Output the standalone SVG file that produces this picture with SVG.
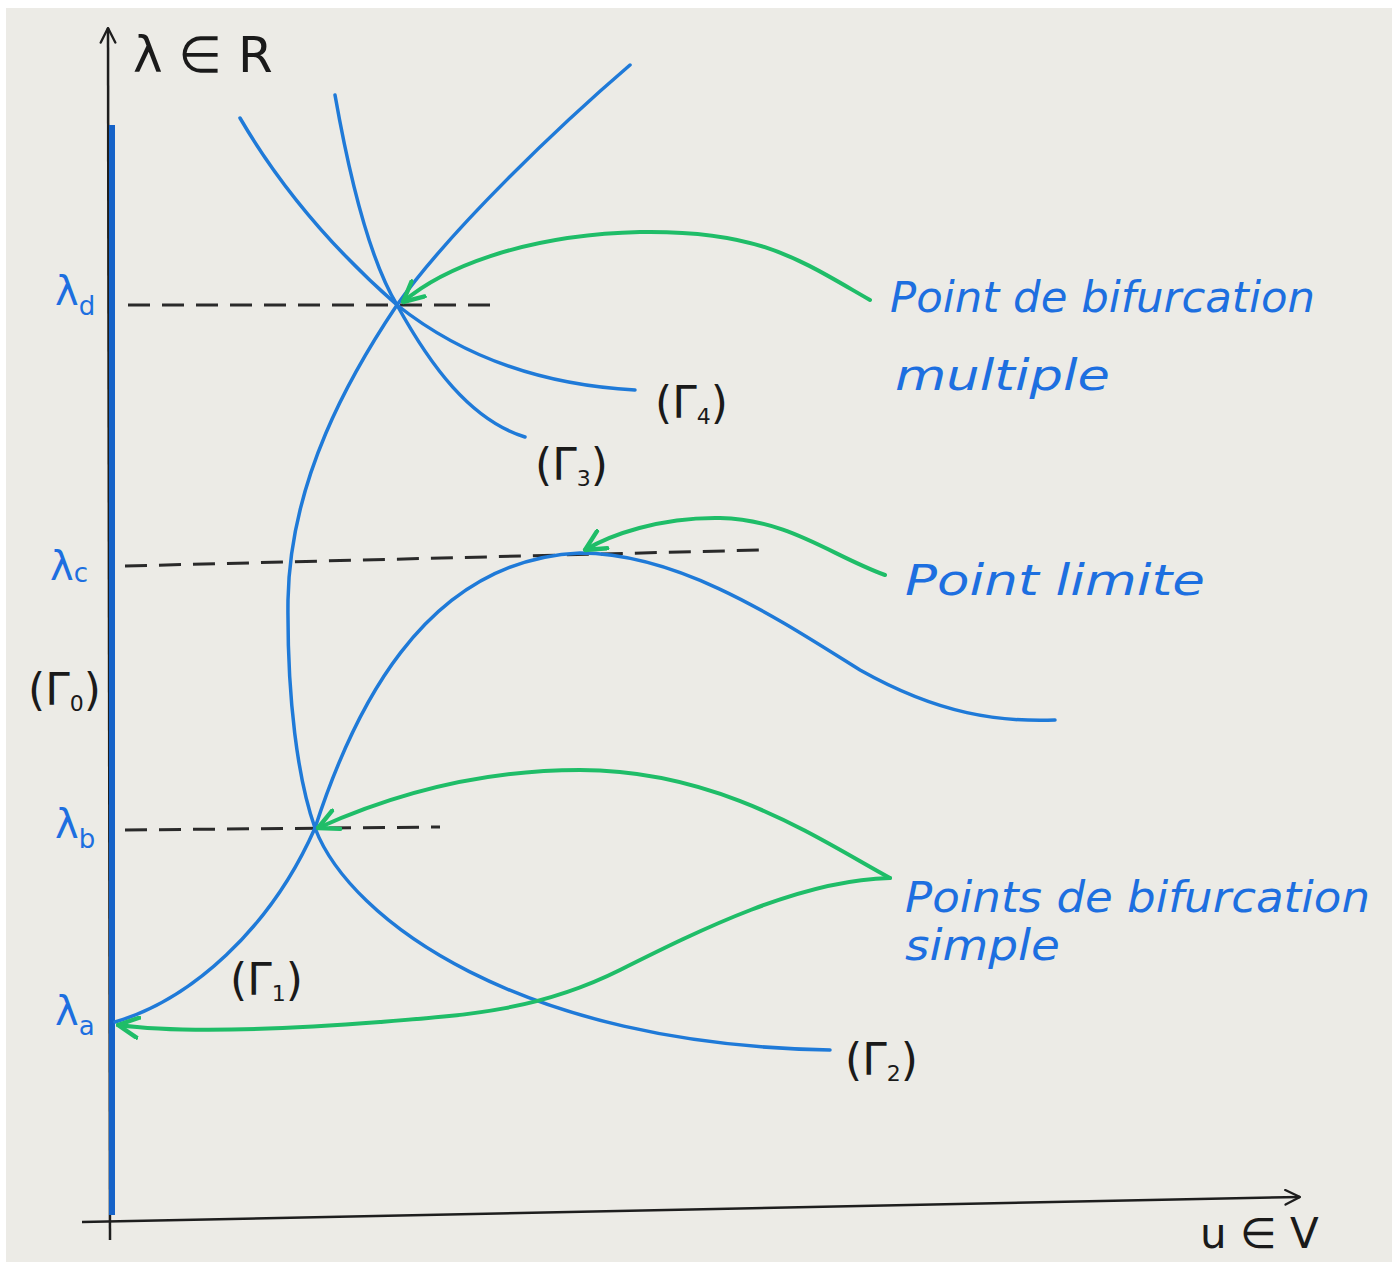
<svg xmlns="http://www.w3.org/2000/svg" width="1396" height="1267" viewBox="0 0 1396 1267">
<defs>
<style>
.curve{fill:none;stroke:#1f7ad8;stroke-width:3.5;stroke-linecap:round}
.green{fill:none;stroke:#1fbd68;stroke-width:4;stroke-linecap:round}
.dash{fill:none;stroke:#2a2a2a;stroke-width:3;stroke-dasharray:22 12}
.axis{fill:none;stroke:#1e1e1e;stroke-width:2.5}
.lbl{font-family:"DejaVu Sans",sans-serif;fill:#1a1a1a}
.blue{font-family:"DejaVu Sans",sans-serif;fill:#1d6fe0;font-style:italic}
.lam{font-family:"DejaVu Sans",sans-serif;fill:#1d6fe0}
</style>
<marker id="ga" viewBox="0 0 12 12" refX="11" refY="6" markerWidth="6" markerHeight="6" orient="auto" markerUnits="strokeWidth">
<path d="M1,1 L11,6 L1,11" fill="none" stroke="#1fbd68" stroke-width="2.2" stroke-linecap="round" stroke-linejoin="round"/>
</marker>
<marker id="ka" viewBox="0 0 12 12" refX="11" refY="6" markerWidth="7" markerHeight="7" orient="auto" markerUnits="strokeWidth">
<path d="M1,1 L11,6 L1,11" fill="none" stroke="#1e1e1e" stroke-width="1.6" stroke-linecap="round" stroke-linejoin="round"/>
</marker>
</defs>
<rect x="0" y="0" width="1396" height="1267" fill="#ffffff"/>
<rect x="6" y="8" width="1386" height="1254" fill="#ecebe6"/>

<g id="axes">
<path class="axis" d="M110,1240 L108,28" marker-end="url(#ka)"/>
<path class="axis" d="M82,1222 L1300,1197" marker-end="url(#ka)"/>
<path d="M112,125 L112,1215" fill="none" stroke="#1562c8" stroke-width="6"/>
<text class="lbl" x="133" y="72" font-size="50">λ ∈ R</text>
<text class="lbl" x="1200" y="1248" font-size="42">u ∈ V</text>
</g>

<g id="levels">
<path class="dash" d="M128,305 L495,305"/>
<path class="dash" d="M125,566 L760,550"/>
<path class="dash" d="M125,830 L440,827"/>
<text class="lam" x="55" y="305" font-size="40">λ<tspan font-size="26" dy="10">d</tspan></text>
<text class="lam" x="50" y="580" font-size="40">λ<tspan font-size="26" dy="2">c</tspan></text>
<text class="lam" x="55" y="838" font-size="40">λ<tspan font-size="26" dy="10">b</tspan></text>
<text class="lam" x="55" y="1025" font-size="40">λ<tspan font-size="26" dy="10">a</tspan></text>
</g>

<g id="branches">
<path id="gamma1" class="curve" d="M115,1022 C190,1000 270,930 315,828 C350,720 420,560 580,553 C680,553 780,620 860,670 C940,715 1000,722 1055,720"/>
<path id="gamma2" class="curve" d="M630,65 C560,125 450,230 397,305 C350,375 290,480 288,600 C287,700 298,780 315,828 C350,920 520,1045 830,1050"/>
<path id="gamma3" class="curve" d="M335,95 C350,180 370,260 397,305 C430,365 470,420 525,437"/>
<path id="gamma4" class="curve" d="M240,118 C285,195 340,255 397,305 C460,355 540,385 635,390"/>
</g>

<g id="curve-labels">
<text class="lbl" x="28" y="705" font-size="44">(Γ<tspan font-size="22" dy="6">0</tspan><tspan dy="-6">)</tspan></text>
<text class="lbl" x="230" y="995" font-size="44">(Γ<tspan font-size="22" dy="6">1</tspan><tspan dy="-6">)</tspan></text>
<text class="lbl" x="845" y="1075" font-size="44">(Γ<tspan font-size="22" dy="6">2</tspan><tspan dy="-6">)</tspan></text>
<text class="lbl" x="535" y="480" font-size="44">(Γ<tspan font-size="22" dy="6">3</tspan><tspan dy="-6">)</tspan></text>
<text class="lbl" x="655" y="418" font-size="44">(Γ<tspan font-size="22" dy="6">4</tspan><tspan dy="-6">)</tspan></text>
</g>

<g id="connectors">
<path class="green" d="M870,300 C800,260 760,230 640,232 C520,235 440,270 403,302" marker-end="url(#ga)"/>
<path class="green" d="M885,575 C830,555 790,520 720,518 C660,517 610,535 585,550" marker-end="url(#ga)"/>
<path class="green" d="M890,878 C820,840 720,770 580,770 C470,770 380,800 318,828" marker-end="url(#ga)"/>
<path class="green" d="M890,878 C800,880 700,930 620,970 C540,1010 470,1015 380,1022 C250,1032 170,1032 118,1025" marker-end="url(#ga)"/>
</g>

<g id="annotation-multiple">
<text class="blue" x="890" y="312" font-size="42" textLength="425" lengthAdjust="spacingAndGlyphs">Point de bifurcation</text>
<text class="blue" x="895" y="390" font-size="42" textLength="215" lengthAdjust="spacingAndGlyphs">multiple</text>
</g>
<g id="annotation-limite">
<text class="blue" x="905" y="595" font-size="42" textLength="300" lengthAdjust="spacingAndGlyphs">Point limite</text>
</g>
<g id="annotation-simple">
<text class="blue" x="905" y="912" font-size="42" textLength="465" lengthAdjust="spacingAndGlyphs">Points de bifurcation</text>
<text class="blue" x="905" y="960" font-size="42" textLength="155" lengthAdjust="spacingAndGlyphs">simple</text>
</g>
</svg>
